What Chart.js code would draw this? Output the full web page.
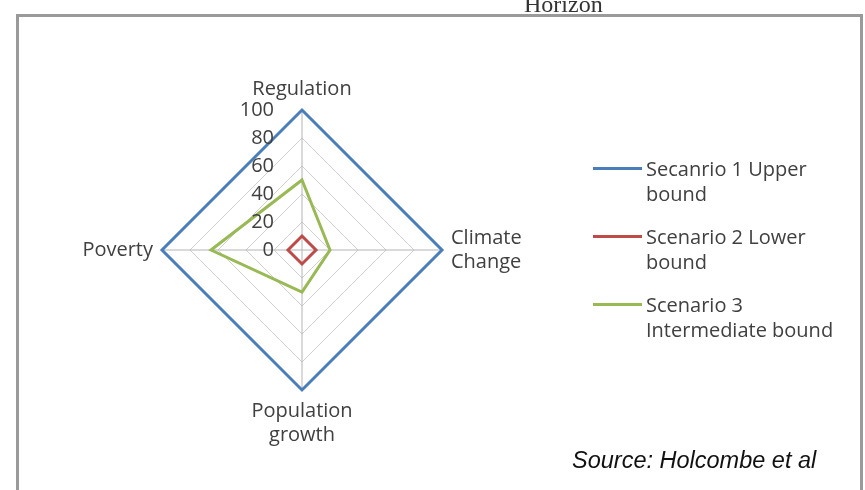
<!DOCTYPE html>
<html>
<head>
<meta charset="utf-8">
<script src="https://cdn.jsdelivr.net/npm/chart.js@4.4.1/dist/chart.umd.min.js"></script>
<style>
  html, body { margin: 0; padding: 0; background: #ffffff; }
  #wrap { position: relative; width: 865px; height: 490px; overflow: hidden; background: #ffffff; }
  #c { position: absolute; left: 0; top: 0; }
  #frame { position: absolute; left: 16px; top: 14px; width: 841px; height: 500px;
           border: 3px solid #9a9a9a; border-bottom: none; pointer-events: none; box-sizing: content-box; }
  #horizon { position: absolute; left: 524px; top: -8px; font-family: "Liberation Serif", serif;
             font-size: 24px; line-height: 24px; color: #333; white-space: nowrap; }
  .leg { position: absolute; left: 646px; font-family: "Open Sans", sans-serif; font-size: 20px;
         line-height: 25px; color: #404040; white-space: nowrap; }
  .legline { position: absolute; left: 593px; width: 49px; height: 3px; }
  #source { position: absolute; left: 572px; top: 446px; font-family: "Liberation Sans", Arial, sans-serif;
            font-style: italic; font-size: 23.5px; line-height: 28px; color: #111; white-space: nowrap; }
</style>
</head>
<body>
<div id="wrap">
  <canvas id="c" width="865" height="490"></canvas>
  <div id="horizon">Horizon</div>
  <div id="frame"></div>
  <div id="legend"></div>
  <div id="source">Source: Holcombe et al</div>
</div>
<script>
// ---- data ----
const categories = ["Regulation", ["Climate", "Change"], ["Population", "growth"], "Poverty"];
const seriesNames = [["Secanrio 1 Upper", "bound"], ["Scenario 2 Lower", "bound"], ["Scenario 3", "Intermediate bound"]];
const scenario1 = [100, 100, 100, 100];
const scenario2 = [10, 10, 10, 10];
const scenario3 = [50, 20, 30, 65];
const tickValues = [0, 20, 40, 60, 80, 100];
const seriesColors = ["#4a7ebb", "#be4b48", "#98b954"];

// ---- legend (HTML) ----
const legendTops = [168, 236, 304];
const legendEl = document.getElementById('legend');
seriesNames.forEach((lines, i) => {
  const ln = document.createElement('div');
  ln.className = 'legline';
  ln.style.top = (legendTops[i] - 1.5) + 'px';
  ln.style.background = seriesColors[i];
  legendEl.appendChild(ln);
  const tx = document.createElement('div');
  tx.className = 'leg';
  tx.style.top = (legendTops[i] - 12.5) + 'px';
  tx.innerHTML = lines.map(s => s.replace(/&/g, '&amp;')).join('<br>');
  legendEl.appendChild(tx);
});

const FONT = '"Open Sans", sans-serif';

const sideTicks = {
  id: 'sideTicks',
  afterDatasetsDraw(chart) {
    const s = chart.scales.r;
    const ctx = chart.ctx;
    ctx.save();
    ctx.font = '20px ' + FONT;
    ctx.fillStyle = '#404040';
    ctx.textAlign = 'right';
    ctx.textBaseline = 'middle';
    tickValues.forEach(v => {
      const d = s.getDistanceFromCenterForValue(v);
      ctx.fillText(String(v), s.xCenter - 28, s.yCenter - d);
    });
    ctx.restore();
  }
};

function draw() {
  new Chart(document.getElementById('c'), {
    type: 'radar',
    data: {
      labels: categories,
      datasets: [
        { label: seriesNames[0].join(' '), data: scenario1, borderColor: seriesColors[0] },
        { label: seriesNames[1].join(' '), data: scenario2, borderColor: seriesColors[1] },
        { label: seriesNames[2].join(' '), data: scenario3, borderColor: seriesColors[2] }
      ].map(d => Object.assign(d, { borderWidth: 3, pointRadius: 0, fill: false, tension: 0, backgroundColor: 'transparent' }))
    },
    options: {
      responsive: false,
      animation: false,
      devicePixelRatio: 1,
      layout: { padding: { left: 20, right: 281, top: 65, bottom: 31 } },
      plugins: { legend: { display: false }, tooltip: { enabled: false }, title: { display: false } },
      scales: {
        r: {
          min: 0, max: 100,
          ticks: { stepSize: 20, display: false },
          grid: { color: '#d0d0d0', lineWidth: 1, circular: false },
          angleLines: { color: '#b4b4b4', lineWidth: 1 },
          pointLabels: {
            padding: 9,
            color: '#404040',
            font: { family: FONT, size: 20, lineHeight: '24px' }
          }
        }
      }
    },
    plugins: [sideTicks]
  });
}

if (document.fonts && document.fonts.load) {
  Promise.all([
    document.fonts.load('20px "Open Sans"'),
    document.fonts.load('italic 23px "Liberation Sans"'),
    document.fonts.load('24px "Liberation Serif"')
  ]).then(draw, draw);
} else { draw(); }
</script>
</body>
</html>
